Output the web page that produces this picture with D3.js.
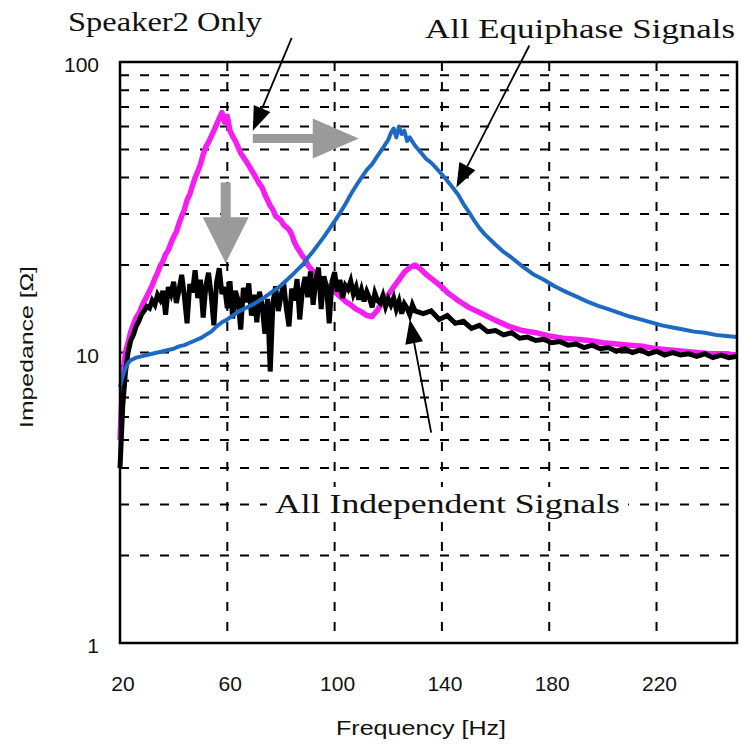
<!DOCTYPE html>
<html lang="en">
<head>
    <meta charset="UTF-8">
    <title>Impedance vs Frequency</title>
    <script src="https://d3js.org/d3.v7.min.js"></script>
    <style>
        body {
            margin: 0;
            background-color: #ffffff;
        }
        .grid {
            stroke: #000;
            stroke-width: 2;
            stroke-dasharray: 9,11;
        }
        .tick-label {
            font-family: "Liberation Sans", Arial, sans-serif;
            font-size: 21px;
            fill: #111;
        }
        .note {
            font-family: "Liberation Serif", "Times New Roman", serif;
            font-size: 27px;
            fill: #111;
        }
    </style>
</head>
<body>
<div id="chart"></div>
<script>
    // Speaker 2 only (magenta)
    var spk2Hz = [20,21,22,23,24,25,26,27,28,29,30,31,32,33,34,35,36,37,38,39,40,41,42,43,44,45,46,47,48,49,
        50,51,52,53,54,55,56,57,58,59,60,61,62,63,64,65,66,67,68,69,70,71,72,73,74,75,76,77,78,79,
        80,81,82,83,84,85,86,87,88,89,90,92,94,96,98,100,102,104,106,108,110,112,114,116,118,120,
        122,124,126,128,130,132,134,136,138,140,142,144,146,148,150,155,160,165,170,175,180,185,190,
        195,200,205,210,215,220,225,230,235,240,245,250];
    var spk2Z = [5.0,8.0,10.0,10.8,11.8,12.5,13.2,13.6,14.3,15.0,15.6,16.3,17.0,18.0,18.8,19.9,20.6,21.8,22.5,23.8,
        25.0,26.0,27.8,29.5,31.0,33.5,35.0,37.5,40.0,42.0,44.5,48.0,51.0,53.0,55.5,58.0,61.0,64.0,67.0,62.0,
        65.0,58.0,55.5,53.5,51.0,48.5,47.0,45.5,44.0,42.5,41.0,39.5,38.0,37.0,35.0,33.5,32.0,31.0,29.5,29.0,
        28.5,27.5,27.0,26.5,25.5,24.0,23.0,22.3,21.5,21.0,20.0,19.0,18.0,17.3,16.8,16.2,15.6,15.0,14.6,14.1,
        13.8,13.4,13.3,14.0,15.0,15.8,16.8,17.8,18.9,19.6,20.0,19.4,18.6,18.0,17.4,16.8,16.1,15.6,15.1,14.7,
        14.3,13.6,12.9,12.3,11.9,11.7,11.4,11.2,11.1,11.0,10.8,10.7,10.6,10.5,10.3,10.2,10.1,10.0,9.9,9.9,9.8];

    // All equiphase signals (blue)
    var equiHz = [20,21,22,23,24,25,26,28,30,32,34,36,38,40,42,44,46,48,50,52,54,56,58,60,62,64,66,68,70,72,
        74,76,78,80,82,84,86,88,90,92,94,96,98,100,102,104,106,108,110,112,114,116,118,120,121,122,123,124,125,126,
        127,128,130,132,134,136,138,140,142,144,146,148,150,152,154,156,158,160,163,166,170,174,178,182,186,190,
        194,198,202,206,210,214,218,222,226,230,234,238,242,246,250];
    var equiZ = [7.6,8.3,8.8,9.2,9.4,9.5,9.6,9.7,9.8,9.9,10.0,10.1,10.2,10.3,10.5,10.6,10.8,11.0,11.2,11.5,
        11.8,12.3,12.7,13.0,13.4,13.8,14.1,14.4,14.7,15.1,15.5,16.0,16.5,17.0,17.7,18.4,19.2,20.0,21.2,22.3,
        23.6,25.0,26.6,28.3,30.2,32.4,35.0,37.5,40.0,42.5,44.5,47.5,50.5,54.0,57.0,59.0,55.0,60.0,56.5,58.0,
        53.5,55.0,51.5,49.0,46.5,45.0,43.0,41.0,39.0,37.0,35.0,32.5,30.5,28.5,26.8,25.5,24.5,23.5,22.2,21.2,
        19.8,18.6,17.8,16.9,16.2,15.6,15.0,14.5,14.1,13.7,13.3,13.0,12.7,12.4,12.2,12.0,11.8,11.7,11.5,11.4,11.3];

    // All independent signals (black)
    var indepHz = [20,21,22,23,24,25,26,27,28,29,30,31,32,33,34,35,36,37,38,39,40,41,42,43,44,45,46,47,48,49,
        50,51,52,53,54,55,56,57,58,59,60,61,62,63,64,65,66,67,68,69,70,71,72,73,74,75,76,77,78,79,
        80,81,82,83,84,85,86,87,88,89,90,91,92,93,94,95,96,97,98,99,100,101,102,103,104,105,106,107,108,109,
        110,111,112,113,114,115,116,117,118,119,120,121,122,123,124,125,126,127,128,129,130,
        133,136,139,142,145,148,151,154,157,160,163,166,169,172,175,178,181,184,187,190,193,196,199,
        202,205,208,211,214,217,220,223,226,229,232,235,238,241,244,247,250];
    var indepZ = [4.0,6.5,8.5,10.0,11.0,11.5,12.3,12.8,13.5,13.9,14.4,14.2,15.1,14.6,15.8,15.2,16.3,13.5,16.8,15.9,
        17.5,14.8,16.4,18.5,15.6,12.6,17.2,16.1,19.2,15.4,17.8,13.2,16.9,18.8,15.7,12.4,17.4,19.5,15.9,16.8,
        14.2,17.6,13.1,16.3,15.2,12.0,16.7,14.9,17.3,13.4,15.8,12.7,16.2,14.5,11.6,15.3,8.6,14.8,16.9,13.9,
        15.6,17.4,14.2,12.3,16.6,15.1,17.9,13.0,16.4,18.2,15.5,19.0,14.6,17.7,19.6,14.1,18.3,16.8,12.6,17.5,
        18.9,16.2,17.8,15.4,17.0,16.5,17.6,15.9,16.8,15.2,16.4,15.0,16.2,15.4,14.3,16.0,15.1,14.8,15.7,14.4,
        15.3,14.6,15.4,14.1,15.0,13.6,14.7,14.2,13.5,14.6,13.9,
        13.6,13.9,13.0,13.4,12.6,12.8,12.1,12.4,11.8,11.9,11.5,11.7,11.2,11.3,11.0,11.1,10.8,10.9,10.6,10.7,
        10.4,10.6,10.3,10.4,10.1,10.3,10.0,10.2,9.9,10.1,9.8,10.0,9.8,9.9,9.7,9.9,9.6,9.8,9.6,9.7];

    var xTicks = [20, 60, 100, 140, 180, 220];
    var xGrid = [60, 100, 140, 180, 220];
    var yTicks = [1, 10, 100];
    var yGrid = [2,3,4,5,6,7,8,9,10,20,30,40,50,60,70,80,90];

    var width = 743, height = 747;
    var plot = {left: 120, right: 737, top: 62, bottom: 643};

    var svg = d3.select("#chart").append("svg")
        .attr("width", width)
        .attr("height", height);

    var x = d3.scaleLinear().domain([20, 250]).range([plot.left, plot.right]);
    var y = d3.scaleLog().domain([1, 100]).range([plot.bottom, plot.top]);

    // grid lines
    svg.selectAll(".hgrid").data(yGrid).enter().append("line")
        .attr("class", "grid")
        .attr("x1", plot.left).attr("x2", plot.right)
        .attr("y1", function(d) { return y(d); })
        .attr("y2", function(d) { return y(d); });

    svg.selectAll(".vgrid").data(xGrid).enter().append("line")
        .attr("class", "grid")
        .attr("x1", function(d) { return x(d); })
        .attr("x2", function(d) { return x(d); })
        .attr("y1", plot.top).attr("y2", plot.bottom);

    // series
    function series(hz, z) {
        return hz.map(function(f, i) { return [f, z[i]]; });
    }
    var line = d3.line()
        .x(function(d) { return x(d[0]); })
        .y(function(d) { return y(d[1]); });

    svg.append("path").datum(series(spk2Hz, spk2Z))
        .attr("fill", "none").attr("stroke", "#f41ef0").attr("stroke-width", 5.5)
        .attr("stroke-linejoin", "round")
        .attr("d", line);

    svg.append("path").datum(series(indepHz, indepZ))
        .attr("fill", "none").attr("stroke", "#000").attr("stroke-width", 5)
        .attr("d", line);

    svg.append("path").datum(series(equiHz, equiZ))
        .attr("fill", "none").attr("stroke", "#1d6ac2").attr("stroke-width", 4)
        .attr("stroke-linejoin", "round")
        .attr("d", line);

    // frame
    svg.append("rect")
        .attr("x", plot.left).attr("y", plot.top)
        .attr("width", plot.right - plot.left)
        .attr("height", plot.bottom - plot.top)
        .attr("fill", "none").attr("stroke", "#000").attr("stroke-width", 2.5);

    // tick labels
    svg.selectAll(".xl").data(xTicks).enter().append("text")
        .attr("class", "tick-label")
        .attr("x", function(d) { return x(d) + 3; })
        .attr("y", 691)
        .attr("text-anchor", "middle")
        .text(function(d) { return d; });

    svg.selectAll(".yl").data(yTicks).enter().append("text")
        .attr("class", "tick-label")
        .attr("x", 99)
        .attr("y", function(d) { return y(d) + 10; })
        .attr("text-anchor", "end")
        .text(function(d) { return d; });

    // axis titles
    svg.append("text")
        .attr("class", "tick-label")
        .attr("x", 336).attr("y", 735)
        .attr("textLength", 170).attr("lengthAdjust", "spacingAndGlyphs")
        .style("font-size", "20px")
        .text("Frequency [Hz]");

    svg.append("text")
        .attr("class", "tick-label")
        .attr("transform", "translate(33,428) rotate(-90)")
        .attr("textLength", 162).attr("lengthAdjust", "spacingAndGlyphs")
        .style("font-size", "19px")
        .text("Impedance [Ω]");

    // gray arrows (shift of the peak)
    function grayArrow(x1, y1, x2, y2, shaft, headLen, headW) {
        var dx = x2 - x1, dy = y2 - y1, len = Math.sqrt(dx * dx + dy * dy);
        var ux = dx / len, uy = dy / len, px = -uy, py = ux;
        var bx = x2 - ux * headLen, by = y2 - uy * headLen;
        var pts = [
            [x1 + px * shaft / 2, y1 + py * shaft / 2],
            [bx + px * shaft / 2, by + py * shaft / 2],
            [bx + px * headW / 2, by + py * headW / 2],
            [x2, y2],
            [bx - px * headW / 2, by - py * headW / 2],
            [bx - px * shaft / 2, by - py * shaft / 2],
            [x1 - px * shaft / 2, y1 - py * shaft / 2]
        ];
        svg.append("polygon")
            .attr("points", pts.map(function(p) { return p.join(","); }).join(" "))
            .attr("fill", "#9a9a9a");
    }
    grayArrow(x(69.5), y(54.5), x(109), y(54.5), 9, 46, 40);
    grayArrow(x(59.4), y(38.5), x(59.4), y(20.3), 10, 46, 46);

    // black pointer arrows
    function pointer(x1, y1, x2, y2) {
        var dx = x2 - x1, dy = y2 - y1, len = Math.sqrt(dx * dx + dy * dy);
        var ux = dx / len, uy = dy / len, px = -uy, py = ux;
        var headLen = 24, headW = 18;
        var bx = x2 - ux * headLen, by = y2 - uy * headLen;
        svg.append("line")
            .attr("x1", x1).attr("y1", y1).attr("x2", bx).attr("y2", by)
            .attr("stroke", "#000").attr("stroke-width", 1.8);
        svg.append("polygon")
            .attr("points", [[x2, y2], [bx + px * headW / 2, by + py * headW / 2],
                [bx - px * headW / 2, by - py * headW / 2]].map(function(p) { return p.join(","); }).join(" "))
            .attr("fill", "#000");
    }
    pointer(x(84), y(121), x(69.5), y(58));
    pointer(x(172.6), y(114), x(145.4), y(37));
    pointer(x(136), y(5.3), x(128), y(13));

    // annotations
    function note(tx, ty, len, label, boxed) {
        var t = svg.append("text").attr("class", "note")
            .attr("x", tx).attr("y", ty)
            .attr("textLength", len).attr("lengthAdjust", "spacingAndGlyphs")
            .text(label);
        if (boxed) {
            var b = t.node().getBBox();
            svg.insert("rect", function() { return t.node(); })
                .attr("x", b.x - 8).attr("y", b.y - 2)
                .attr("width", b.width + 16).attr("height", b.height + 4)
                .attr("fill", "#fff");
        }
    }
    note(68, 31, 194, "Speaker2 Only", false);
    note(425, 38, 310, "All Equiphase Signals", false);
    note(275, 513, 345, "All Independent Signals", true);
</script>
</body>
</html>
